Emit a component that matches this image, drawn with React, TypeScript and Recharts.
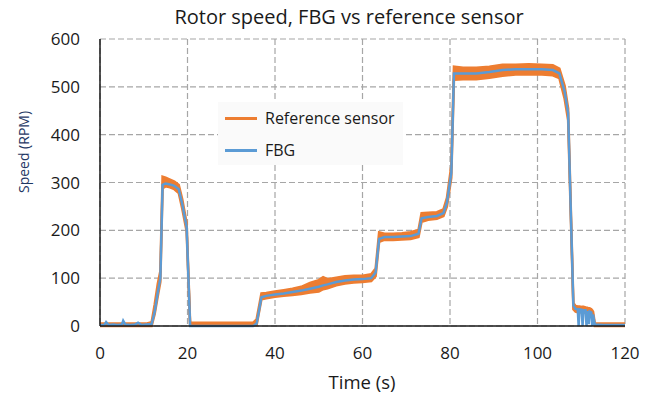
import React from 'react';
import { ComposedChart, Area, Line, XAxis, YAxis, CartesianGrid } from 'recharts';

// time in seconds
const time = [
  0, 1, 1.4, 2, 3, 4, 5, 5.3, 5.8, 7,
  8, 8.7, 9.5, 10.5, 11.8, 12.5, 13.2, 13.8, 14.3, 15,
  16, 17, 18, 18.8, 19.8, 20.6, 25, 30, 35, 35.8,
  36.9, 38, 40, 42, 44, 46, 48, 50, 51, 52,
  54, 56, 58, 60, 62, 63, 63.8, 65, 67, 69,
  71, 72.8, 73.5, 75, 77, 78.5, 79.3, 80.3, 80.9, 83,
  86, 89, 92, 95, 98, 101, 103.5, 105, 106.2, 107,
  108.2, 108.7, 109.2, 109.4, 109.6, 110.1, 110.3, 110.5, 111, 111.2,
  111.4, 111.7, 111.9, 112.3, 112.5, 112.7, 113.1, 115, 120,
];

// FBG speed (RPM)
const fbgSpeed = [
  2, 2, 8, 2, 3, 2, 3, 11, 3, 2,
  3, 7, 2, 3, 4, 30, 70, 100, 295, 298,
  296, 293, 286, 255, 207, 0, 0, 0, 0, 5,
  60, 63, 66, 68, 71, 74, 78, 82, 85, 87,
  92, 95, 97, 98, 100, 112, 182, 186, 186, 187,
  188, 193, 225, 228, 230, 236, 258, 320, 528, 528,
  528, 531, 535, 537, 537, 537, 535, 528, 490, 445,
  42, 36, 35, 0, 35, 34, 0, 33, 33, 0,
  31, 4, 30, 28, 0, 24, 3, 2, 2,
];

// reference sensor, noisy band (low / high edge)
const refLow = [
  0, 0, 0, 0, 0, 0, 0, 0, 0, 0,
  0, 0, 0, 0, 0, 25, 62, 92, 288, 292,
  290, 286, 278, 245, 198, 2, 2, 2, 2, 2,
  56, 58, 61, 63, 65, 67, 70, 72, 77, 79,
  85, 89, 91, 92, 94, 104, 176, 180, 180, 181,
  182, 186, 218, 222, 224, 230, 250, 310, 515, 516,
  516, 519, 523, 526, 526, 526, 524, 518, 475, 430,
  35, 30, 29, 29, 29, 28, 28, 28, 28, 27,
  27, 26, 26, 24, 22, 18, 0, 0, 0,
];

const refHigh = [
  5, 5, 6, 5, 5, 5, 5, 6, 5, 5,
  5, 5, 5, 5, 8, 45, 88, 115, 312, 310,
  306, 302, 295, 265, 215, 7, 7, 7, 7, 14,
  68, 69, 72, 75, 78, 82, 90, 96, 102, 98,
  101, 104, 105, 105, 108, 120, 196, 193, 193, 194,
  196, 201, 236, 237, 238, 244, 268, 335, 542, 540,
  540, 542, 546, 546, 547, 546, 545, 538, 502, 455,
  48, 42, 41, 41, 41, 40, 40, 40, 39, 38,
  38, 37, 37, 35, 33, 30, 6, 5, 5,
];

const xTicks = [0, 20, 40, 60, 80, 100, 120];
const yTicks = [0, 100, 200, 300, 400, 500, 600];

const data = time.map((t, i) => ({
  t,
  fbg: fbgSpeed[i],
  ref: [refLow[i], refHigh[i]],
}));

const FONT = '"Open Sans", "Noto Sans", sans-serif';
const ORANGE = '#ED7D31';
const BLUE = '#5B9BD5';
const INK = '#1a1a1a';

export default function App() {
  return (
    <div style={{ position: 'absolute', left: 0, top: 0, width: 657, height: 401, background: '#fff', fontFamily: FONT }}>
      <ComposedChart width={657} height={401} data={data} margin={{ top: 39, right: 32, bottom: 0, left: 0 }}>
        <CartesianGrid stroke="#a6a6a6" strokeDasharray="6 3" strokeWidth={1.2} />
        <XAxis
          dataKey="t"
          type="number"
          domain={[0, 120]}
          ticks={xTicks}
          height={75}
          tickLine={false}
          tickSize={0}
          tickMargin={21}
          axisLine={{ stroke: INK, strokeWidth: 1.5 }}
          tick={{ fontSize: 17, fill: INK, fontFamily: FONT }}
        />
        <XAxis xAxisId="top" orientation="top" dataKey="t" type="number" domain={[0, 120]} height={0} tick={false} tickLine={false} axisLine={{ stroke: INK, strokeWidth: 1.5 }} />
        <YAxis
          domain={[0, 600]}
          ticks={yTicks}
          width={100}
          tickLine={false}
          tickSize={0}
          tickMargin={20}
          axisLine={{ stroke: INK, strokeWidth: 1.5 }}
          tick={{ fontSize: 17, fill: INK, fontFamily: FONT }}
        />
        <YAxis yAxisId="right" orientation="right" domain={[0, 600]} width={0} tick={false} tickLine={false} axisLine={{ stroke: INK, strokeWidth: 1.5 }} />
        <Area
          type="linear"
          dataKey="ref"
          stroke={ORANGE}
          strokeWidth={2.5}
          fill={ORANGE}
          fillOpacity={1}
          isAnimationActive={false}
        />
        <Line
          type="linear"
          dataKey="fbg"
          stroke={BLUE}
          strokeWidth={2.5}
          dot={false}
          isAnimationActive={false}
        />
      </ComposedChart>

      <div style={{ position: 'absolute', left: 149, top: 3, width: 400, textAlign: 'center', fontSize: 20, color: INK }}>
        Rotor speed, FBG vs reference sensor
      </div>
      <div style={{ position: 'absolute', left: -36, top: 142, width: 120, height: 20, lineHeight: '20px', textAlign: 'center', fontSize: 14, color: '#1F3864', transform: 'rotate(-90deg)' }}>
        Speed (RPM)
      </div>
      <div style={{ position: 'absolute', left: 302, top: 369, width: 120, textAlign: 'center', fontSize: 18.5, color: INK }}>
        Time (s)
      </div>

      <div style={{ position: 'absolute', left: 218, top: 102, width: 185, height: 63, background: '#fafafa' }}>
        <div style={{ position: 'absolute', left: 7, top: 15, width: 32, height: 2.5, background: ORANGE }} />
        <div style={{ position: 'absolute', left: 47, top: 4, fontSize: 16, lineHeight: '24px', color: INK }}>Reference sensor</div>
        <div style={{ position: 'absolute', left: 7, top: 47, width: 32, height: 2.5, background: BLUE }} />
        <div style={{ position: 'absolute', left: 47, top: 36, fontSize: 16, lineHeight: '24px', color: INK }}>FBG</div>
      </div>
    </div>
  );
}
